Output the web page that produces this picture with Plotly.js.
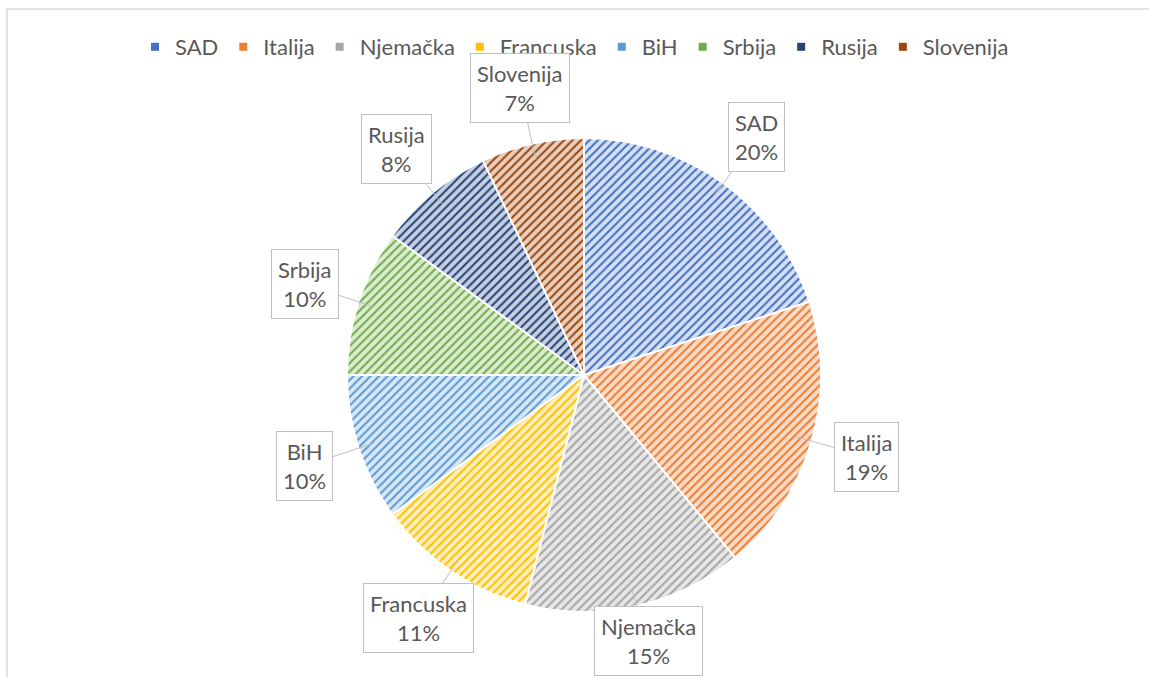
<!DOCTYPE html>
<html>
<head>
<meta charset="utf-8">
<script src="https://cdn.plot.ly/plotly-3.0.1.min.js"></script>
<style>html,body{margin:0;padding:0;background:#fff;}#chart{width:1149px;height:677px;}</style>
</head>
<body>
<div id="chart"></div>
<script>
var labels = ["SAD", "Italija", "Njemačka", "Francuska", "BiH", "Srbija", "Rusija", "Slovenija"];
var values = [20, 19, 15, 11, 10, 10, 8, 7];
var colors = ["#4472C4", "#ED7D31", "#A5A5A5", "#FFC000", "#5B9BD5", "#70AD47", "#264478", "#9E480E"];
var lightColors = ["#D6E0F3", "#FBDCC8", "#E6E6E6", "#FFEFBF", "#D9E8F5", "#DCEBD2", "#C6CFDF", "#E8D0C1"];

var W = 1149, H = 677;
var cx = 584, cy = 375, R = 237;
var fontFam = "Lato, 'Liberation Sans', sans-serif";
var textCol = "#595959";

var total = values.reduce(function(a, b){ return a + b; }, 0);
var annotations = [];
var cum = 0;
for (var i = 0; i < values.length; i++) {
  var mid = (cum + values[i] / 2) / total * 2 * Math.PI;
  cum += values[i];
  var tipR = R * 0.93;
  var boxR = R * 1.24;
  var tx = cx + tipR * Math.sin(mid), ty = cy - tipR * Math.cos(mid);
  var bx = cx + boxR * Math.sin(mid), by = cy - boxR * Math.cos(mid);
  by = Math.min(by, H - 36);
  var pct = Math.round(values[i] / total * 100) + "%";
  annotations.push({
    xref: "paper", yref: "paper",
    x: tx / W, y: 1 - ty / H,
    ax: bx - tx, ay: by - ty,
    axref: "pixel", ayref: "pixel",
    text: labels[i] + "<br>" + pct,
    showarrow: true, arrowhead: 0, arrowwidth: 1, arrowcolor: "#BFBFBF",
    bordercolor: "#BFBFBF", borderwidth: 1, borderpad: 6, bgcolor: "#FFFFFF",
    font: {family: fontFam, size: 22, color: textCol},
    align: "center"
  });
}

var data = [{
  type: "pie",
  labels: labels,
  values: values,
  sort: false,
  direction: "clockwise",
  rotation: 0,
  textinfo: "none",
  hoverinfo: "label+percent",
  showlegend: false,
  domain: {x: [(cx - R) / W, (cx + R) / W], y: [(H - cy - R) / H, (H - cy + R) / H]},
  marker: {
    colors: lightColors,
    line: {color: "#FFFFFF", width: 2},
    pattern: {shape: "/", fgcolor: colors, bgcolor: lightColors, size: 6, solidity: 0.35, fillmode: "replace"}
  }
}];

// legend entries (one per category), drawn as small squares
for (var j = 0; j < labels.length; j++) {
  data.push({
    type: "scatter", mode: "markers",
    x: [null], y: [null],
    name: labels[j],
    showlegend: true,
    hoverinfo: "skip",
    marker: {symbol: "square", size: 8, color: colors[j]}
  });
}

var layout = {
  width: W, height: H,
  margin: {l: 0, r: 0, t: 0, b: 0},
  paper_bgcolor: "#FFFFFF",
  plot_bgcolor: "rgba(0,0,0,0)",
  xaxis: {visible: false, showgrid: false, zeroline: false},
  yaxis: {visible: false, showgrid: false, zeroline: false},
  showlegend: true,
  legend: {
    orientation: "h", x: 0.5, xanchor: "center", y: 1 - 47 / H, yanchor: "middle",
    font: {family: fontFam, size: 22, color: textCol},
    itemwidth: 30, traceorder: "normal", bgcolor: "rgba(0,0,0,0)"
  },
  annotations: annotations,
  shapes: [{
    type: "rect", xref: "paper", yref: "paper",
    x0: 7 / W, x1: 1.02, y0: -0.02, y1: 1 - 9 / H,
    line: {color: "#D9D9D9", width: 1.5}, fillcolor: "rgba(0,0,0,0)", layer: "below"
  }]
};

Plotly.newPlot("chart", data, layout, {displayModeBar: false, staticPlot: true});
</script>
</body>
</html>
